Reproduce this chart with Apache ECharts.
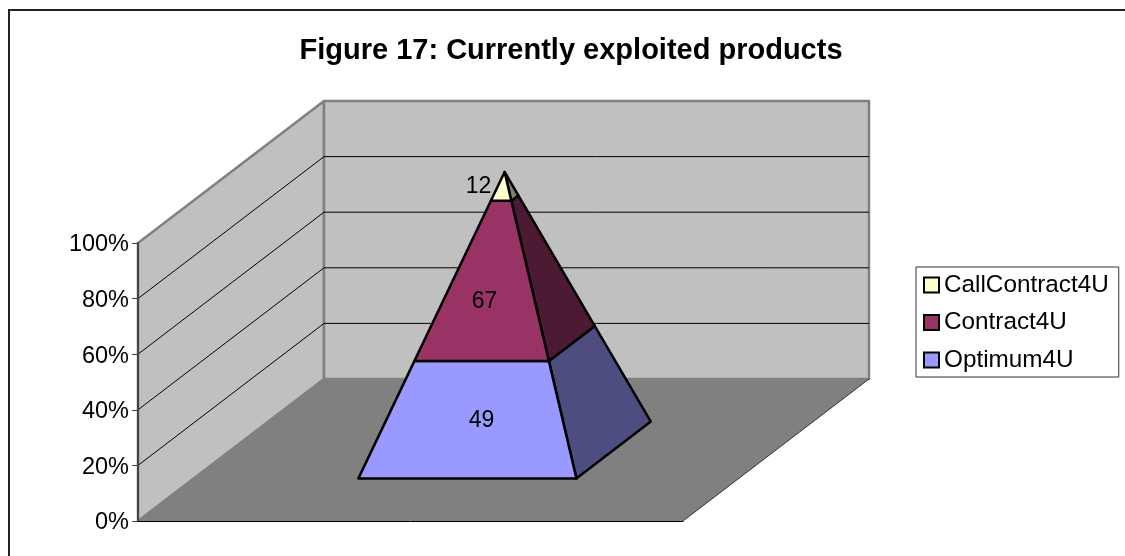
<!DOCTYPE html>
<html>
<head>
<meta charset="utf-8">
<style>
  html, body { margin: 0; padding: 0; background: #fff; }
  #chart { width: 1125px; height: 556px; }
</style>
<script src="https://cdn.jsdelivr.net/npm/echarts@6/dist/echarts.min.js"></script>
</head>
<body>
<div id="chart"></div>
<script>
var categories = ['Products']
var seriesNames = ['Optimum4U', 'Contract4U', 'CallContract4U']
var optimumValues = [49]
var contractValues = [67]
var callContractValues = [12]
var yTicks = [0, 20, 40, 60, 80, 100]

// 3d projection of the plot box, px per full depth
var depthX = 186
var depthY = -142
var pyramidHalfWidth = 0.2
var pyramidHalfDepth = 0.2
var pyramidShift = 0.002

var frontColors = ['#9999FF', '#993366', '#FFFFCC']
var sideColors = ['#4D4D80', '#4D1A33', '#808066']
// excel does not put the labels in the middle of the faces
var labelShift = [[-23, 1], [-20, 21], [-26, 0]]

var valueRows = [optimumValues, contractValues, callContractValues]
var total = optimumValues[0] + contractValues[0] + callContractValues[0]

function project(api, xFrac, depth, pct) {
  var p = api.coord([0, pct])
  var band = api.size([1, 0])[0]
  return [p[0] + xFrac * band + depth * depthX, p[1] + depth * depthY]
}

function corner(api, sx, sz, pct) {
  var k = 1 - pct / 100
  return project(api, pyramidShift + sx * pyramidHalfWidth * k, 0.5 + sz * pyramidHalfDepth * k, pct)
}

function renderWalls(params, api) {
  var children = []
  var wall = { fill: '#C0C0C0', stroke: '#808080', lineWidth: 2.5, lineJoin: 'round' }
  var l = -0.5
  var r = 0.5
  // floor
  children.push({
    type: 'polygon',
    shape: { points: [project(api, l, 0, 0), project(api, r, 0, 0), project(api, r, 1, 0), project(api, l, 1, 0)] },
    style: { fill: '#808080' },
  })
  // left wall
  children.push({
    type: 'polygon',
    shape: { points: [project(api, l, 0, 0), project(api, l, 1, 0), project(api, l, 1, 100), project(api, l, 0, 100)] },
    style: wall,
  })
  // back wall
  children.push({
    type: 'polygon',
    shape: { points: [project(api, l, 1, 0), project(api, r, 1, 0), project(api, r, 1, 100), project(api, l, 1, 100)] },
    style: wall,
  })
  yTicks.slice(1, -1).forEach(function (t) {
    var a = project(api, l, 0, t)
    var b = project(api, l, 1, t)
    var c = project(api, r, 1, t)
    children.push({
      type: 'polyline',
      shape: { points: [a, b, c] },
      style: { fill: null, stroke: '#000', lineWidth: 1 },
    })
  })
  // thin edge on the right of the floor
  children.push({
    type: 'line',
    shape: { x1: project(api, r, 0, 0)[0], y1: project(api, r, 0, 0)[1], x2: project(api, r, 1, 0)[0], y2: project(api, r, 1, 0)[1] },
    style: { stroke: '#333', lineWidth: 1 },
  })
  return { type: 'group', children: children }
}

function renderSegment(params, api) {
  var from = api.value(1)
  var to = api.value(2)
  var i = params.seriesIndex - 1
  var edge = { stroke: '#000', lineWidth: 2.5, lineJoin: 'round' }
  var front = [corner(api, -1, -1, from), corner(api, 1, -1, from), corner(api, 1, -1, to), corner(api, -1, -1, to)]
  var side = [corner(api, 1, -1, from), corner(api, 1, 1, from), corner(api, 1, 1, to), corner(api, 1, -1, to)]
  var midY = (front[0][1] + front[3][1]) / 2
  var apex = corner(api, 0, 0, 100)
  return {
    type: 'group',
    children: [
      { type: 'polygon', shape: { points: side }, style: Object.assign({ fill: sideColors[i] }, edge) },
      { type: 'polygon', shape: { points: front }, style: Object.assign({ fill: frontColors[i] }, edge) },
      {
        type: 'text',
        style: {
          x: apex[0] + labelShift[i][0],
          y: midY + labelShift[i][1],
          text: String(api.value(3)),
          fill: '#000',
          font: '23px "Liberation Sans", Arial, sans-serif',
          align: 'center',
          verticalAlign: 'middle',
        },
      },
    ],
  }
}

var cumulative = 0
var segmentSeries = seriesNames.map(function (name, i) {
  var from = (cumulative / total) * 100
  cumulative += valueRows[i][0]
  return {
    name: name,
    type: 'custom',
    z: 3 + i,
    silent: true,
    itemStyle: { color: frontColors[i], borderColor: '#000', borderWidth: 2 },
    renderItem: renderSegment,
    encode: { x: 0, y: 2 },
    data: [[0, from, (cumulative / total) * 100, valueRows[i][0]]],
  }
})

var myChart = echarts.init(document.getElementById('chart'), null, { renderer: 'canvas' })
myChart.setOption({
  animation: false,
  backgroundColor: '#fff',
  textStyle: { fontFamily: '"Liberation Sans", Arial, sans-serif' },
  title: {
    text: 'Figure 17: Currently exploited products',
    left: 566,
    textAlign: 'center',
    top: 31,
    textStyle: { fontSize: 29, fontWeight: 'bold', color: '#000', fontFamily: '"Liberation Sans", Arial, sans-serif' },
  },
  legend: {
    orient: 'vertical',
    left: 916,
    top: 267,
    padding: [6, 10, 5, 7],
    data: ['CallContract4U', 'Contract4U', 'Optimum4U'],
    icon: 'rect',
    itemWidth: 15,
    itemHeight: 15,
    itemGap: 13.5,
    borderColor: '#333',
    borderWidth: 1,
    selectedMode: false,
    textStyle: { fontSize: 24.3, color: '#000', fontFamily: '"Liberation Sans", Arial, sans-serif' },
  },
  grid: { left: 138, right: 442, top: 243, bottom: 35 },
  xAxis: {
    type: 'category',
    data: categories,
    z: 10,
    axisLine: { show: true, lineStyle: { color: '#000', width: 1 } },
    axisTick: { show: false },
    axisLabel: { show: false },
  },
  yAxis: {
    type: 'value',
    min: 0,
    max: 100,
    interval: 20,
    z: 10,
    splitLine: { show: false },
    axisLine: { show: true, lineStyle: { color: '#444', width: 2 } },
    axisTick: { show: true, length: 6, lineStyle: { color: '#444' } },
    axisLabel: {
      formatter: '{pct|{value}%}',
      margin: 9,
      rich: {
        pct: { fontSize: 23.5, color: '#000', padding: [4, 0, 0, 0], fontFamily: '"Liberation Sans", Arial, sans-serif' },
      },
    },
  },
  graphic: [
    { type: 'polyline', silent: true, shape: { points: [[9, 556], [9, 10], [1125, 10]] }, style: { fill: null, stroke: '#222', lineWidth: 2 } },
  ],
  series: [
    {
      name: 'walls',
      type: 'custom',
      z: 2,
      silent: true,
      renderItem: renderWalls,
      encode: { x: 0, y: 1 },
      data: [[0, 0]],
    },
  ].concat(segmentSeries),
})
</script>
</body>
</html>
